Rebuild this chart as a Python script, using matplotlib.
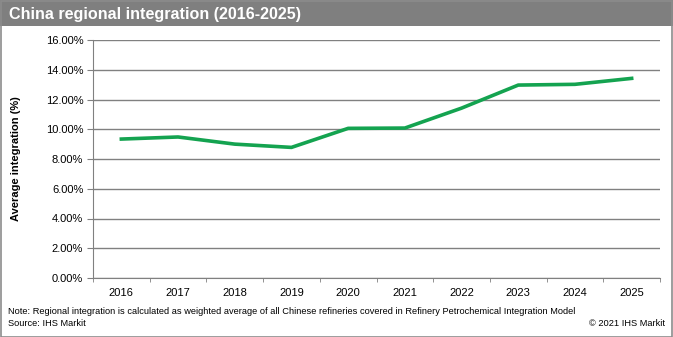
import numpy as np
import matplotlib.pyplot as plt
from matplotlib.patches import Rectangle
from matplotlib.ticker import FuncFormatter, FixedLocator

plt.rcParams['font.family'] = ['Liberation Sans', 'DejaVu Sans']

years = ['2016', '2017', '2018', '2019', '2020', '2021', '2022', '2023', '2024', '2025']
integration = [9.34, 9.48, 9.0, 8.78, 10.06, 10.08, 11.42, 12.97, 13.02, 13.42]

W, H = 673, 337
fig = plt.figure(figsize=(W / 100, H / 100), dpi=100)

# header bar and outer frame
fig.patches.append(Rectangle((0, 1 - 26 / H), 1, 26 / H, transform=fig.transFigure,
                             facecolor='#7f7f7f', edgecolor='none'))
fig.patches.append(Rectangle((0.5 / W, 0.5 / H), 1 - 1.5 / W, 1 - 1.5 / H, transform=fig.transFigure,
                             facecolor='none', edgecolor='#8c8c8c', lw=1.2))
fig.text(9 / W, 1 - 15 / H, 'China regional integration (2016-2025)', color='white',
         fontsize=11.6, fontweight='bold', va='center', ha='left')

ax = fig.add_axes([93 / W, 1 - 278 / H, (660 - 93) / W, (278 - 40) / H])
x = np.arange(len(years))
ax.plot(x, integration, color='#14a350', lw=2.6, solid_joinstyle='round')

ax.set_xlim(-0.5, len(years) - 0.5)
ax.set_ylim(0, 16)
ax.set_yticks(np.arange(0, 17, 2))
ax.yaxis.set_major_formatter(FuncFormatter(lambda v, p: f'{v:.2f}%'))
ax.yaxis.grid(True, color='#808080', lw=1)
ax.set_axisbelow(True)

ax.set_xticks(x)
ax.set_xticklabels(years)
ax.xaxis.set_minor_locator(FixedLocator(np.arange(-0.5, len(years), 1)))
ax.tick_params(axis='x', which='major', length=0, pad=7, labelsize=8)
ax.tick_params(axis='x', which='minor', length=3, color='#808080', direction='out')
ax.tick_params(axis='y', length=4, color='#808080', labelsize=8, pad=3)

for s in ['top', 'right']:
    ax.spines[s].set_visible(False)
ax.spines['left'].set_color('#808080')
ax.spines['bottom'].set_color('#808080')

fig.text(16 / W, 1 - 159 / H, 'Average integration (%)', rotation=90, fontsize=8,
         fontweight='bold', va='center', ha='center')

fig.text(8 / W, 1 - 311 / H,
         'Note: Regional integration is calculated as weighted average of all Chinese refineries '
         'covered in Refinery Petrochemical Integration Model', fontsize=6.7, va='center')
fig.text(8 / W, 1 - 324 / H, 'Source: IHS Markit', fontsize=6.7, va='center')
fig.text(665 / W, 1 - 324 / H, '\u00a9 2021 IHS Markit', fontsize=6.7, va='center', ha='right')

fig.savefig('out.png', dpi=100)
